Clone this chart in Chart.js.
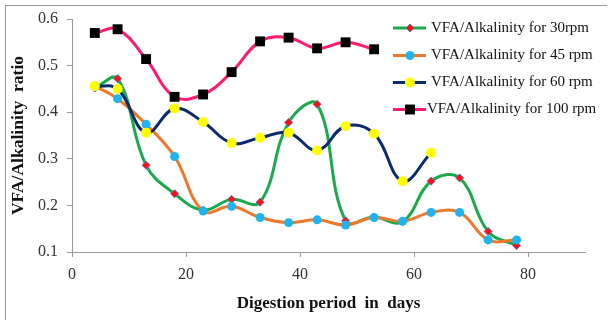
<!DOCTYPE html>
<html>
<head>
<meta charset="utf-8">
<script src="https://cdn.jsdelivr.net/npm/chart.js@4.4.1/dist/chart.umd.min.js"></script>
<style>
  html, body { margin: 0; padding: 0; background: #fff; }
  #wrap { position: relative; width: 612px; height: 320px; }
  #frame { position: absolute; left: 5px; top: 5px; width: 602px; height: 320px;
           border-left: 1px solid #9a9a9a; border-top: 1px solid #9a9a9a; box-sizing: border-box; }
  canvas { position: absolute; left: 0; top: 0; }
</style>
</head>
<body>
<div id="wrap">
  <div id="frame"></div>
  <canvas id="chartCanvas" width="612" height="320"></canvas>
</div>
<script>
var days = [4, 8, 13, 18, 23, 28, 33, 38, 43, 48, 53, 58, 63, 68, 73, 78];
var ratio30 = [0.452, 0.472, 0.286, 0.225, 0.19, 0.213, 0.207, 0.378, 0.417, 0.167, 0.175, 0.165, 0.252, 0.259, 0.144, 0.114];
var ratio45 = [0.456, 0.429, 0.374, 0.305, 0.188, 0.198, 0.174, 0.163, 0.169, 0.158, 0.174, 0.166, 0.185, 0.185, 0.126, 0.126];
var ratio60 = [0.456, 0.450, 0.356, 0.408, 0.379, 0.334, 0.345, 0.356, 0.318, 0.370, 0.354, 0.252, 0.313];
var ratio100 = [0.570, 0.578, 0.514, 0.433, 0.438, 0.486, 0.552, 0.560, 0.537, 0.550, 0.535];
var seriesNames = ["VFA/Alkalinity for 30rpm", "VFA/Alkalinity for 45 rpm", "VFA/Alkalinity for 60 rpm", "VFA/Alkalinity for 100 rpm"];
var yTicks = [0.1, 0.2, 0.3, 0.4, 0.5, 0.6];
var xTicks = [0, 20, 40, 60, 80];

function toPoints(values) {
  return values.map(function (v, i) {
    return { x: days[i], y: v };
  });
}

var serif = "'Liberation Serif', 'Times New Roman', serif";

function drawMarker(ctx, style, r, x, y) {
  if (style === "circle") {
    ctx.arc(x, y, r, 0, Math.PI * 2);
  } else if (style === "rect") {
    var s = Math.SQRT1_2 * r;
    ctx.rect(x - s, y - s, 2 * s, 2 * s);
  } else {
    ctx.moveTo(x - r, y);
    ctx.lineTo(x, y - r);
    ctx.lineTo(x + r, y);
    ctx.lineTo(x, y + r);
    ctx.closePath();
  }
}

// legend drawn inside the plot, top right, like the original
var insideLegend = {
  id: "insideLegend",
  afterDraw: function (chart) {
    var ctx = chart.ctx;
    var rows = [28, 55.5, 82.5, 109.5];
    ctx.save();
    chart.data.datasets.forEach(function (ds, i) {
      var y = rows[i];
      ctx.strokeStyle = ds.borderColor;
      ctx.lineWidth = 3;
      ctx.beginPath();
      ctx.moveTo(393, y);
      ctx.lineTo(426, y);
      ctx.stroke();
      ctx.fillStyle = ds.pointBackgroundColor;
      ctx.strokeStyle = ds.pointBorderColor;
      ctx.lineWidth = ds.pointBorderWidth;
      ctx.beginPath();
      drawMarker(ctx, ds.pointStyle, ds.pointRadius, 410, y);
      ctx.fill();
      if (ds.pointBorderWidth) ctx.stroke();
      ctx.fillStyle = "#111";
      ctx.font = "15px " + serif;
      ctx.textBaseline = "middle";
      ctx.fillText(ds.label, i === 3 ? 427 : 431, y);
    });
    ctx.restore();
  }
};

var ctx = document.getElementById("chartCanvas").getContext("2d");
var vfaChart = new Chart(ctx, {
  type: "line",
  data: {
    datasets: [
      {
        label: seriesNames[0],
        data: toPoints(ratio30),
        borderColor: "#1aaa4b",
        borderWidth: 3,
        pointStyle: "rectRot",
        pointRadius: 4,
        pointBackgroundColor: "#ff1010",
        pointBorderColor: "#6a6ab8",
        pointBorderWidth: 1,
        tension: 0.4,
        order: 4
      },
      {
        label: seriesNames[1],
        data: toPoints(ratio45),
        borderColor: "#ec7a2a",
        borderWidth: 3,
        pointStyle: "circle",
        pointRadius: 4.5,
        pointBackgroundColor: "#1fb4ee",
        pointBorderColor: "#1fb4ee",
        pointBorderWidth: 0,
        tension: 0.4,
        order: 3
      },
      {
        label: seriesNames[2],
        data: toPoints(ratio60),
        borderColor: "#0c2a6e",
        borderWidth: 3,
        pointStyle: "circle",
        pointRadius: 5,
        pointBackgroundColor: "#ffff00",
        pointBorderColor: "#ffff00",
        pointBorderWidth: 0,
        tension: 0.4,
        order: 2
      },
      {
        label: seriesNames[3],
        data: toPoints(ratio100),
        borderColor: "#ff1a72",
        borderWidth: 3,
        pointStyle: "rect",
        pointRadius: 7,
        pointBackgroundColor: "#000000",
        pointBorderColor: "#000000",
        pointBorderWidth: 0,
        tension: 0.4,
        order: 1
      }
    ]
  },
  options: {
    responsive: false,
    animation: false,
    layout: { padding: { top: 19, right: 27, left: 0, bottom: 0 } },
    plugins: {
      legend: { display: false },
      tooltip: { enabled: false }
    },
    scales: {
      x: {
        type: "linear",
        min: 0,
        max: 90,
        afterBuildTicks: function (scale) {
          scale.ticks = xTicks.map(function (v) { return { value: v }; });
        },
        afterFit: function (scale) { scale.height = 68; },
        grid: { drawOnChartArea: false, drawTicks: true, tickLength: 5, color: "#9a9a9a" },
        border: { color: "#9a9a9a", width: 1 },
        ticks: { color: "#333", font: { family: serif, size: 16 }, padding: 8 },
        title: {
          display: true,
          text: "Digestion period  in  days",
          color: "#111",
          font: { family: serif, size: 17, weight: "bold" },
          padding: { top: 0, bottom: 6 }
        }
      },
      y: {
        min: 0.1,
        max: 0.6,
        afterBuildTicks: function (scale) {
          scale.ticks = yTicks.map(function (v) { return { value: v }; });
        },
        afterFit: function (scale) { scale.width = 72; },
        grid: { drawOnChartArea: false, drawTicks: true, tickLength: 5, color: "#9a9a9a" },
        border: { color: "#9a9a9a", width: 1 },
        ticks: {
          color: "#333",
          font: { family: serif, size: 16 },
          padding: 9,
          callback: function (v) { return v.toFixed(1); }
        },
        title: {
          display: true,
          text: "VFA/Alkalinity  ratio",
          color: "#111",
          font: { family: serif, size: 17.5, weight: "bold" },
          padding: { top: 8, bottom: 0 }
        }
      }
    }
  },
  plugins: [insideLegend]
});
</script>
</body>
</html>
